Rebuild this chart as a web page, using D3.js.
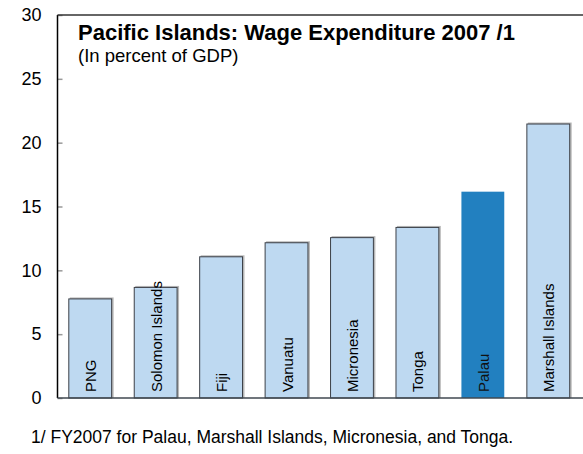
<!DOCTYPE html>
<html>
<head>
<meta charset="utf-8">
<script src="https://cdn.jsdelivr.net/npm/d3@7"></script>
<style>
  html, body { margin: 0; padding: 0; background: #fff; }
  svg { display: block; font-family: "Liberation Sans", Arial, sans-serif; }
</style>
</head>
<body>
<svg id="chart" width="583" height="454"></svg>
<script>
// Wage expenditure, 2007 (percent of GDP)
const countries = ["PNG", "Solomon Islands", "Fiji", "Vanuatu", "Micronesia", "Tonga", "Palau", "Marshall Islands"];
const wageShare = [7.8, 8.7, 11.1, 12.2, 12.6, 13.4, 16.2, 21.5];
const highlighted = ["Palau"];
const yTicks = [0, 5, 10, 15, 20, 25, 30];

const svg = d3.select("#chart");
const plotLeft = 57.5, plotRight = 581, plotTop = 15, plotBottom = 398;

const x = d3.scaleBand().domain(countries).range([plotLeft, plotRight]).paddingInner(0.33).paddingOuter(0.165);
const y = d3.scaleLinear().domain([0, 30]).range([plotBottom, plotTop]);

const data = countries.map((c, i) => ({ name: c, value: wageShare[i] }));

// bar shadows
svg.append("g").selectAll("rect")
  .data(data.filter(d => !highlighted.includes(d.name)))
  .join("rect")
  .attr("x", d => x(d.name) + 1.5)
  .attr("y", d => y(d.value) - 1)
  .attr("width", x.bandwidth())
  .attr("height", d => plotBottom - y(d.value) + 1)
  .attr("fill", "#b8b8b8");

// bars
svg.append("g").selectAll("rect")
  .data(data)
  .join("rect")
  .attr("x", d => x(d.name) + 0.5)
  .attr("y", d => y(d.value) + 0.5)
  .attr("width", x.bandwidth() - 1)
  .attr("height", d => plotBottom - y(d.value) - 0.5)
  .attr("fill", d => highlighted.includes(d.name) ? "#2280c0" : "#bed9f1")
  .attr("stroke", d => highlighted.includes(d.name) ? "none" : "#3c4048")
  .attr("stroke-width", 1);

// rotated category labels inside bars
svg.append("g").selectAll("text")
  .data(data)
  .join("text")
  .attr("transform", d => `translate(${x(d.name) + x.bandwidth() / 2 + 6},${plotBottom - 6}) rotate(-90)`)
  .attr("font-size", 15)
  .attr("fill", d => highlighted.includes(d.name) ? "#111" : "#000")
  .text(d => d.name);

// y axis
const yAxis = d3.axisLeft(y).tickValues(yTicks).tickSize(-5).tickPadding(16);
const gy = svg.append("g").attr("transform", `translate(${plotLeft},0)`).call(yAxis);
gy.select(".domain").remove();
gy.selectAll(".tick line").attr("stroke", "#999").attr("stroke-width", 1.5);
gy.selectAll(".tick text").attr("font-size", 18).attr("fill", "#000")
  .attr("font-family", "Liberation Sans, Arial, sans-serif");

// frame: left axis, top line, baseline
svg.append("line").attr("x1", plotLeft).attr("x2", plotLeft).attr("y1", plotTop).attr("y2", plotBottom)
  .attr("stroke", "#000").attr("stroke-width", 1.5);
svg.append("line").attr("x1", plotLeft).attr("x2", 583).attr("y1", plotTop).attr("y2", plotTop)
  .attr("stroke", "#333").attr("stroke-width", 1.5);
svg.append("line").attr("x1", plotLeft).attr("x2", 583).attr("y1", plotBottom).attr("y2", plotBottom)
  .attr("stroke", "#404850").attr("stroke-width", 1.5);

// titles
svg.append("text").attr("x", 78).attr("y", 40)
  .attr("font-size", 22).attr("font-weight", "bold")
  .text("Pacific Islands: Wage Expenditure 2007 /1");
svg.append("text").attr("x", 78).attr("y", 62)
  .attr("font-size", 18.5)
  .text("(In percent of GDP)");

// footnote
svg.append("text").attr("x", 31).attr("y", 443)
  .attr("font-size", 17.5)
  .text("1/ FY2007 for Palau, Marshall Islands, Micronesia, and Tonga.");
</script>
</body>
</html>
